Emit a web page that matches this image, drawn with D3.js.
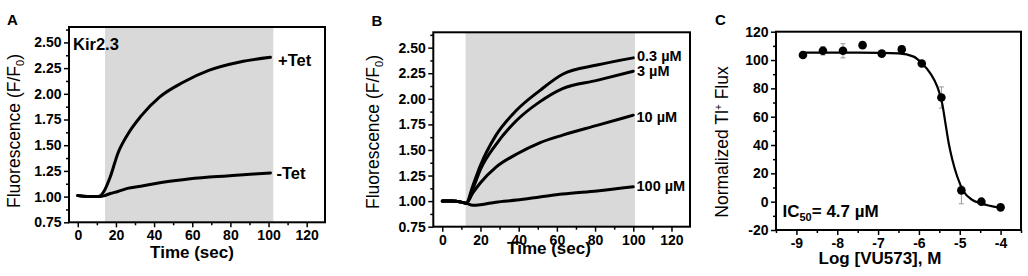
<!DOCTYPE html>
<html>
<head>
<meta charset="utf-8">
<script src="https://cdn.jsdelivr.net/npm/d3@7"></script>
<style>
  body { margin: 0; background: #fff; }
  svg { display: block; font-family: "Liberation Sans", Arial, sans-serif; }
</style>
</head>
<body>
<svg id="fig" width="1028" height="276"></svg>
<script>
// panel A: Kir2.3 traces with / without tetracycline
const timeA = [0, 5, 10, 12, 14, 17, 21, 26, 33, 43, 55, 69, 85, 101];
const plusTet = [1.01, 1.0, 1.0, 1.01, 1.06, 1.19, 1.42, 1.6, 1.78, 1.97, 2.11, 2.23, 2.31, 2.355];
const minusTet = [1.01, 1.0, 1.0, 1.0, 1.01, 1.03, 1.05, 1.08, 1.1, 1.135, 1.165, 1.19, 1.21, 1.23];
const shadeA = [14.3, 102.5];

// panel B: traces at four VU573 concentrations
const timeB = [0, 5, 10, 12.5, 16, 20, 28, 39, 51, 63, 81, 100];
const conc03 = [1.0, 1.0, 0.99, 0.98, 1.15, 1.35, 1.64, 1.89, 2.08, 2.24, 2.33, 2.4];
const conc3 = [1.0, 1.0, 0.99, 0.98, 1.12, 1.31, 1.55, 1.79, 1.97, 2.1, 2.18, 2.27];
const conc10 = [1.0, 1.0, 0.99, 0.98, 1.08, 1.18, 1.33, 1.46, 1.57, 1.645, 1.74, 1.84];
const conc100 = [1.0, 1.0, 0.99, 0.98, 0.96, 0.965, 0.99, 1.01, 1.04, 1.07, 1.1, 1.14];
const shadeB = [12.2, 100.9];

// panel C: concentration-response
const logConc = [-8.84, -8.35, -7.86, -7.38, -6.91, -6.42, -5.93, -5.45, -4.96, -4.47, -4.0];
const flux = [103.5, 106.5, 106.5, 110.5, 104.5, 107.5, 97.5, 73.5, 8, 0, -4];
const fluxErrLo = [0, 3, 5, 0, 0, 2.5, 0, 7.5, 9.5, 0, 0];
const fluxErrHi = [0, 3, 5, 0, 0, 2.5, 0, 7.5, 3, 0, 0];
const fitLog = [-8.84, -7.5, -6.94, -6.5, -6.13, -5.94, -5.72, -5.55, -5.43, -5.35, -5.27, -5.18, -5.06, -4.9, -4.69, -4.49, -4.02];
const fitFlux = [105.2, 105.2, 105.1, 104.7, 102.4, 98.1, 90.6, 81.2, 69.4, 55.3, 41.2, 29.4, 17.6, 7, 1.2, -1.1, -4.3];

const svg = d3.select("#fig");

function makePanel(box, xDomain, yDomain) {
  const x = d3.scaleLinear().domain(xDomain).range([box.left, box.right]);
  const y = d3.scaleLinear().domain(yDomain).range([box.bottom, box.top]);
  return { box, x, y, g: svg.append("g") };
}

function drawAxes(p, xMajor, xMinor, yMajor, yMinor, xFmt, yFmt) {
  const { box, x, y, g } = p;
  const style = (sel) => {
    sel.select(".domain").remove();
    sel.attr("font-family", null).attr("font-size", null);
    sel.selectAll(".tick line").attr("stroke-width", 1.5);
    sel.selectAll(".tick text")
      .attr("font-size", 14).attr("font-weight", "bold").attr("fill", "#000");
  };
  g.append("g").attr("transform", `translate(0,${box.bottom})`)
    .call(d3.axisBottom(x).tickValues(xMinor).tickSize(3).tickFormat("")).call(style);
  g.append("g").attr("transform", `translate(0,${box.bottom})`)
    .call(d3.axisBottom(x).tickValues(xMajor).tickSize(5).tickPadding(3).tickFormat(xFmt)).call(style);
  g.append("g").attr("transform", `translate(${box.left},0)`)
    .call(d3.axisLeft(y).tickValues(yMinor).tickSize(3).tickFormat("")).call(style);
  g.append("g").attr("transform", `translate(${box.left},0)`)
    .call(d3.axisLeft(y).tickValues(yMajor).tickSize(5).tickPadding(2.5).tickFormat(yFmt)).call(style);
}

function frame(p) {
  const { box, g } = p;
  g.append("rect")
    .attr("x", box.left).attr("y", box.top)
    .attr("width", box.right - box.left).attr("height", box.bottom - box.top)
    .attr("fill", "none").attr("stroke", "#000").attr("stroke-width", 2);
}

function shade(p, range) {
  p.g.append("rect")
    .attr("x", p.x(range[0])).attr("y", p.box.top)
    .attr("width", p.x(range[1]) - p.x(range[0]))
    .attr("height", p.box.bottom - p.box.top)
    .attr("fill", "#d9d9d9");
}

function trace(p, xs, ys, width) {
  const line = d3.line()
    .x((d, i) => p.x(xs[i]))
    .y((d) => p.y(d))
    .curve(d3.curveMonotoneX);
  p.g.append("path").datum(ys).attr("d", line)
    .attr("fill", "none").attr("stroke", "#000")
    .attr("stroke-width", width).attr("stroke-linejoin", "round").attr("stroke-linecap", "round");
}

function text(x, y, str, size, weight, rotate) {
  const t = svg.append("text").attr("font-size", size).attr("font-weight", weight || "bold");
  if (rotate) {
    t.attr("transform", `translate(${x},${y}) rotate(-90)`).attr("text-anchor", "middle");
  } else {
    t.attr("x", x).attr("y", y);
  }
  return t.text(str);
}

const fluorTicks = d3.range(0.75, 2.51, 0.25);
const fluorMinor = d3.range(0.875, 2.65, 0.25);
const timeTicks = d3.range(0, 121, 20);
const timeMinor = d3.range(10, 121, 20);

// ---- A ----
const pA = makePanel({ left: 69, top: 27, right: 325, bottom: 222.3 }, [-4.6, 129.6], [0.75, 2.65]);
shade(pA, shadeA);
trace(pA, timeA, minusTet, 3);
trace(pA, timeA, plusTet, 3);
drawAxes(pA, timeTicks, timeMinor, fluorTicks, fluorMinor, d3.format("d"), d3.format(".2f"));
frame(pA);
text(7, 25, "A", 15);
text(73, 50, "Kir2.3", 16.5);
text(278, 66, "+Tet", 16.5);
text(276.5, 179, "-Tet", 16.5);
text(192, 257.5, "Time (sec)", 17).attr("text-anchor", "middle");
const yA = text(20, 131, "", 17.5, "normal", true);
yA.append("tspan").text("Fluorescence (F/F");
yA.append("tspan").attr("font-size", 11).attr("dy", 4).text("0");
yA.append("tspan").attr("dy", -4).text(")");

// ---- B ----
const pB = makePanel({ left: 433.3, top: 32.3, right: 690, bottom: 226.7 }, [-4.7, 129.7], [0.75, 2.65]);
shade(pB, shadeB);
trace(pB, timeB, conc100, 3);
trace(pB, timeB, conc10, 3);
trace(pB, timeB, conc3, 3);
trace(pB, timeB, conc03, 3);
drawAxes(pB, timeTicks, timeMinor, fluorTicks, fluorMinor, d3.format("d"), d3.format(".2f"));
frame(pB);
text(371.5, 26, "B", 15);
text(637, 60.5, "0.3 µM", 14.5);
text(637, 76, "3 µM", 14.5);
text(636.5, 122, "10 µM", 14.5);
text(636.5, 191, "100 µM", 14.5);
// the reference lets this title sit on top of the tick labels
text(549, 254, "Time (sec)", 17).attr("text-anchor", "middle");
const yB = text(379, 132, "", 17.5, "normal", true);
yB.append("tspan").text("Fluorescence (F/F");
yB.append("tspan").attr("font-size", 11).attr("dy", 4).text("0");
yB.append("tspan").attr("dy", -4).text(")");

// ---- C ----
const pC = makePanel({ left: 776, top: 31.7, right: 1021, bottom: 230 }, [-9.5, -3.5], [-20, 120]);
drawAxes(pC, d3.range(-9, -3.9, 1), d3.range(-9.5, -3.4, 1), d3.range(-20, 121, 20), d3.range(-10, 120, 20),
  (d) => String(d), (d) => String(d));

// error bars
const err = pC.g.append("g").attr("stroke", "#999").attr("stroke-width", 1);
logConc.forEach((c, i) => {
  if (!fluxErrLo[i] && !fluxErrHi[i]) return;
  const cx = pC.x(c);
  const y0 = pC.y(flux[i] - fluxErrLo[i]);
  const y1 = pC.y(flux[i] + fluxErrHi[i]);
  err.append("line").attr("x1", cx).attr("x2", cx).attr("y1", y0).attr("y2", y1);
  err.append("line").attr("x1", cx - 2.5).attr("x2", cx + 2.5).attr("y1", y0).attr("y2", y0);
  err.append("line").attr("x1", cx - 2.5).attr("x2", cx + 2.5).attr("y1", y1).attr("y2", y1);
});
trace(pC, fitLog, fitFlux, 2.2);
pC.g.append("g").selectAll("circle")
  .data(flux)
  .join("circle")
  .attr("cx", (d, i) => pC.x(logConc[i]))
  .attr("cy", (d) => pC.y(d))
  .attr("r", 4.3)
  .attr("fill", "#000");
frame(pC);
text(715, 25, "C", 15);
const ic = text(782.5, 216.5, "IC", 17);
ic.append("tspan").attr("font-size", 11).attr("dy", 4).text("50");
ic.append("tspan").attr("dy", -4).text("= 4.7 µM");
text(880, 264, "Log [VU573], M", 17).attr("text-anchor", "middle");
const yC = text(728, 142, "", 17.5, "normal", true);
yC.append("tspan").text("Normalized Tl");
yC.append("tspan").attr("font-size", 10).attr("dy", -6).text("+");
yC.append("tspan").attr("dy", 6).text(" Flux");
</script>
</body>
</html>
